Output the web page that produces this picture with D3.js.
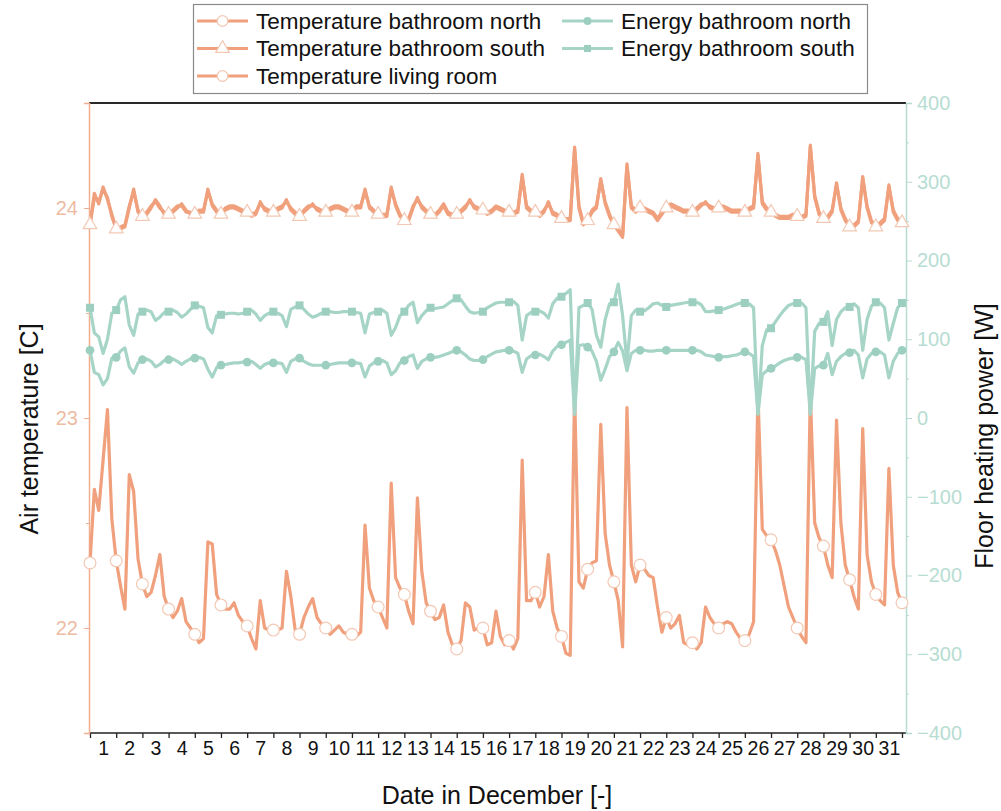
<!DOCTYPE html>
<html><head><meta charset="utf-8">
<script src="https://cdn.jsdelivr.net/npm/d3@7"></script>
<style>
body{margin:0;background:#fff}
text{font-family:"Liberation Sans",Arial,Helvetica,sans-serif}
</style>
</head><body>
<svg id="c" width="1001" height="811"></svg>
<script>
// ---------- data ----------
const dayLabels = ["1","2","3","4","5","6","7","8","9","10","11","12","13","14","15","16","17","18","19","20","21","22","23","24","25","26","27","28","29","30","31"];
const samplesPerDay = 6; // one value every 4 hours, first sample at 00:00 on 1 December
const tempMajorTicks = [22, 23, 24];
const tempMinorTicks = [22.5, 23.5];
const powerMajorTicks = [-400, -300, -200, -100, 0, 100, 200, 300, 400];
const powerMinorTicks = [-350, -250, -150, -50, 50, 150, 250, 350];

const seriesNames = ["Temperature bathroom north", "Temperature bathroom south", "Temperature living room", "Energy bathroom north", "Energy bathroom south"];

const tempBathroomSouth = [
23.92,24.05,24.03,24.09,24.05,23.96, 23.90,23.90,23.91,24.00,24.09,23.98,
23.96,23.97,24.00,24.04,24.01,23.97, 23.97,23.98,24.00,24.02,23.99,23.97,
23.97,23.98,23.98,24.09,24.01,23.98, 23.97,23.99,24.00,24.00,23.99,23.98,
23.98,23.96,23.97,24.03,23.99,23.98, 23.98,23.99,24.00,24.04,23.99,23.97,
23.96,23.98,24.00,24.02,23.99,23.98, 23.98,23.99,24.00,24.00,23.99,23.98,
23.98,24.00,24.00,24.09,24.00,23.98, 23.97,23.96,23.96,24.10,24.01,23.96,
23.94,23.94,24.00,24.05,24.00,23.98, 23.97,23.96,23.98,24.01,23.97,23.96,
23.97,23.98,24.00,24.04,24.00,23.99, 23.99,23.97,23.98,24.00,23.99,23.98,
23.98,23.97,23.98,24.16,24.00,23.98, 23.98,23.96,23.98,24.03,23.97,23.96,
23.95,23.94,23.94,24.29,24.00,23.92, 23.94,23.98,24.00,24.14,24.02,23.96,
23.92,23.89,23.86,24.21,24.00,23.98, 24.00,23.99,23.98,23.97,23.94,23.97,
24.00,24.01,24.00,23.99,23.98,23.98, 23.98,23.99,24.01,24.03,24.00,23.99,
24.00,24.00,23.99,23.98,23.98,23.98, 23.98,23.99,24.00,24.26,24.02,23.99,
23.98,23.96,23.95,23.95,23.95,23.96, 23.96,23.95,23.96,24.30,24.05,23.97,
23.95,23.95,23.98,24.12,23.99,23.94, 23.91,23.91,23.93,24.15,24.00,23.93,
23.91,23.92,23.94,24.11,23.98,23.94, 23.93];

const tempBathroomNorth = [
23.92,24.07,24.02,24.10,24.04,23.97, 23.90,23.91,23.92,24.01,24.08,23.99,
23.96,23.98,24.01,24.03,24.00,23.98, 23.97,23.99,24.01,24.01,23.98,23.98,
23.97,23.99,23.99,24.08,24.02,23.99, 23.97,24.00,24.01,24.01,24.00,23.99,
23.98,23.97,23.98,24.02,24.00,23.99, 23.98,24.00,24.01,24.03,24.00,23.98,
23.96,23.99,24.01,24.01,24.00,23.99, 23.98,24.00,24.01,24.01,24.00,23.99,
23.98,24.01,24.01,24.08,24.01,23.99, 23.97,23.97,23.97,24.09,24.02,23.97,
23.94,23.95,24.01,24.04,24.01,23.99, 23.97,23.97,23.99,24.02,23.98,23.97,
23.97,23.99,24.01,24.03,24.01,24.00, 23.99,23.98,23.99,24.01,24.00,23.99,
23.98,23.98,23.99,24.15,24.01,23.99, 23.98,23.97,23.99,24.02,23.98,23.97,
23.95,23.95,23.95,24.28,24.01,23.93, 23.94,23.99,24.01,24.13,24.03,23.97,
23.92,23.90,23.87,24.20,24.01,23.99, 24.00,24.00,23.99,23.98,23.95,23.98,
24.00,24.02,24.01,24.00,23.99,23.99, 23.98,24.00,24.02,24.02,24.01,24.00,
24.00,24.01,24.00,23.99,23.99,23.99, 23.98,24.00,24.01,24.25,24.03,24.00,
23.98,23.97,23.96,23.96,23.96,23.97, 23.96,23.96,23.97,24.29,24.06,23.98,
23.95,23.96,23.99,24.11,24.00,23.95, 23.91,23.92,23.94,24.14,24.01,23.94,
23.91,23.93,23.95,24.10,23.99,23.95, 23.93];

const tempLivingRoom = [
22.31,22.66,22.56,22.80,23.04,22.52, 22.32,22.20,22.09,22.73,22.65,22.33,
22.21,22.15,22.17,22.25,22.35,22.15, 22.09,22.05,22.08,22.14,22.03,22.00,
21.97,21.93,21.95,22.41,22.40,22.16, 22.11,22.09,22.09,22.12,22.06,22.03,
22.01,21.95,21.90,22.13,22.00,21.99, 21.99,21.99,22.00,22.27,22.15,21.99,
21.97,22.05,22.10,22.14,22.05,22.02, 22.00,21.97,21.99,22.01,21.98,21.97,
21.97,21.96,21.98,22.49,22.19,22.13, 22.10,22.05,22.00,22.69,22.24,22.19,
22.16,22.08,22.02,22.62,22.27,22.12, 22.08,22.04,22.05,22.11,21.98,21.92,
21.90,21.94,22.12,22.10,21.99,22.00, 22.00,21.92,21.93,22.08,21.96,21.92,
21.94,21.90,21.95,22.80,22.13,22.13, 22.17,22.10,22.15,22.35,22.08,22.00,
21.96,21.88,21.87,23.12,22.22,22.19, 22.28,22.31,22.32,22.97,22.45,22.30,
22.22,22.13,21.91,23.05,22.30,22.22, 22.30,22.28,22.25,22.24,22.10,21.98,
22.05,22.00,22.02,22.06,21.93,21.92, 21.93,21.90,21.93,22.10,22.05,22.02,
22.00,22.02,22.03,22.02,21.98,21.95, 21.94,21.97,22.03,23.12,22.47,22.44,
22.42,22.37,22.30,22.20,22.10,22.05, 22.00,21.96,21.93,23.12,22.50,22.43,
22.39,22.30,22.24,22.99,22.50,22.30, 22.23,22.15,22.09,22.95,22.35,22.22,
22.16,22.13,22.11,22.76,22.30,22.17, 22.12];

const energyBathroomSouth = [
140,108,103,82,100,133, 137,150,154,118,105,132,
135,137,135,124,128,134, 135,137,134,128,132,138,
143,142,140,115,108,130, 131,132,133,133,132,133,
135,137,132,124,130,133, 135,133,130,116,138,141,
143,138,132,128,130,133, 135,135,134,134,135,135,
135,134,133,108,132,134, 135,137,133,105,115,130,
135,143,147,121,130,136, 140,139,140,141,145,149,
152,150,142,135,133,134, 135,140,143,146,147,147,
147,148,143,99,130,134, 135,136,133,127,145,152,
154,158,163,5,140,143, 146,138,105,90,125,145,
147,170,130,70,130,137, 135,136,140,145,146,143,
141,143,144,145,146,147, 147,147,144,135,135,136,
137,138,140,142,144,146, 146,145,140,5,92,112,
114,122,130,137,143,145, 146,146,140,5,110,120,
122,135,92,125,135,140, 141,145,140,86,125,142,
147,146,140,99,120,140, 146];

const energyBathroomNorth = [
86,58,55,42,50,76, 77,85,89,65,57,70,
74,75,72,65,68,73, 74,75,72,68,72,75,
76,77,75,62,52,64, 67,68,69,70,70,71,
71,72,68,63,68,70, 70,70,69,58,72,75,
76,72,69,67,67,67, 67,68,69,70,70,70,
70,70,69,52,66,70, 72,73,70,55,60,70,
73,78,80,63,72,75, 77,77,78,80,82,84,
86,84,80,75,73,73, 74,78,81,84,85,86,
86,85,82,58,75,79, 80,81,78,74,85,91,
93,96,99,5,92,93, 90,85,72,48,62,78,
84,96,85,60,82,86, 86,86,85,85,86,86,
86,86,86,86,86,86, 86,86,84,80,79,78,
77,78,78,79,80,82, 84,82,78,5,55,60,
63,66,70,73,75,76, 77,77,74,5,63,66,
67,82,55,72,78,82, 83,86,80,51,75,82,
84,84,80,51,72,82, 86];

// ---------- styles ----------
const ORANGE = "#F0A07C";
const ORANGE_AXIS = "#EFAE90";
const ORANGE_TEXT = "#EDBBA3";
const MARK_STROKE = "#F3C9B5";
const TEAL = "#A6D5C7";
const TEAL_MARK = "#9CCFC0";
const TEAL_AXIS = "#B6DCD1";
const TEAL_TEXT = "#B7DDD2";
const FONT = "Liberation Sans, Arial, sans-serif";

const svg = d3.select("#c");
const frame = {left: 89, right: 906, top: 103, bottom: 733};

const x = d3.scaleLinear().domain([0, 31]).range([90, 902]);
const yT = d3.scaleLinear().domain([21.5, 24.5]).range([frame.bottom, frame.top]);
const yP = d3.scaleLinear().domain([-400, 400]).range([frame.bottom, frame.top]);

const toPts = arr => arr.map((v, i) => ({t: i / samplesPerDay, v, day: i % samplesPerDay === 0}));

// top frame line
svg.append("line").attr("x1", frame.left).attr("x2", frame.right)
  .attr("y1", frame.top).attr("y2", frame.top)
  .attr("stroke", "#2a2a2a").attr("stroke-width", 2);

// ---- bottom axis ----
const gx = svg.append("g").attr("transform", `translate(0,${frame.bottom})`);
gx.append("line").attr("x1", frame.left).attr("x2", frame.right).attr("stroke", "#222").attr("stroke-width", 1.5);
gx.call(d3.axisBottom(x).tickValues(d3.range(0, 32)).tickSize(5).tickFormat(""))
  .call(g => g.select(".domain").remove())
  .call(g => g.selectAll(".tick line").attr("stroke", "#222").attr("stroke-width", 1.3));
const gxl = svg.append("g").attr("transform", `translate(0,${frame.bottom})`);
gxl.call(d3.axisBottom(x).tickValues(dayLabels.map((d, i) => i + 0.5)).tickSize(0).tickPadding(8)
    .tickFormat((d, i) => dayLabels[i]))
  .call(g => g.select(".domain").remove())
  .call(g => g.selectAll("text").attr("font-size", 19.5).attr("fill", "#111").attr("font-family", FONT));

// ---- left axis ----
const gl = svg.append("g").attr("transform", `translate(${frame.left},0)`);
gl.call(d3.axisLeft(yT).tickValues(tempMajorTicks).tickSize(5).tickPadding(6).tickFormat(d3.format("d")))
  .call(g => g.select(".domain").attr("stroke", ORANGE_AXIS).attr("stroke-width", 1.5))
  .call(g => g.selectAll(".tick line").attr("stroke", ORANGE_AXIS))
  .call(g => g.selectAll("text").attr("font-size", 20).attr("fill", ORANGE_TEXT).attr("font-family", FONT));
gl.append("g").call(d3.axisLeft(yT).tickValues(tempMinorTicks).tickSize(3).tickFormat(""))
  .call(g => g.select(".domain").remove())
  .call(g => g.selectAll(".tick line").attr("stroke", ORANGE_AXIS));

// ---- right axis ----
const gr = svg.append("g").attr("transform", `translate(${frame.right},0)`);
gr.call(d3.axisRight(yP).tickValues(powerMajorTicks).tickSize(6).tickPadding(5).tickFormat(d3.format("d")))
  .call(g => g.select(".domain").attr("stroke", TEAL_AXIS).attr("stroke-width", 1.5))
  .call(g => g.selectAll(".tick line").attr("stroke", TEAL_AXIS))
  .call(g => g.selectAll("text").attr("font-size", 20).attr("fill", TEAL_TEXT).attr("font-family", FONT));
gr.append("g").call(d3.axisRight(yP).tickValues(powerMinorTicks).tickSize(3).tickFormat(""))
  .call(g => g.select(".domain").remove())
  .call(g => g.selectAll(".tick line").attr("stroke", TEAL_AXIS));

// ---- axis titles ----
svg.append("text").attr("transform", "translate(38,429) rotate(-90)").attr("text-anchor", "middle")
  .attr("font-size", 25).attr("fill", "#111").text("Air temperature [C]");
svg.append("text").attr("transform", "translate(993,436) rotate(-90)").attr("text-anchor", "middle")
  .attr("font-size", 25).attr("fill", "#111").text("Floor heating power [W]");
svg.append("text").attr("x", 497).attr("y", 804).attr("text-anchor", "middle")
  .attr("font-size", 25).attr("fill", "#111").text("Date in December [-]");

// ---- series ----
const plot = svg.append("g");
const lineT = d3.line().x(d => x(d.t)).y(d => yT(d.v));
const lineP = d3.line().x(d => x(d.t)).y(d => yP(d.v));

function drawLine(data, gen, color) {
  plot.append("path").datum(data).attr("d", gen).attr("fill", "none")
    .attr("stroke", color).attr("stroke-width", 3.2).attr("stroke-linejoin", "round");
}
function drawMarkers(data, yScale, symbol, size, fill, stroke) {
  plot.append("g").selectAll("path").data(data.filter(d => d.day)).join("path")
    .attr("transform", d => `translate(${x(d.t)},${yScale(d.v)})`)
    .attr("d", d3.symbol().type(symbol).size(size))
    .attr("fill", fill).attr("stroke", stroke).attr("stroke-width", stroke === "none" ? 0 : 1.2);
}

const bn = toPts(tempBathroomNorth), bs = toPts(tempBathroomSouth), lr = toPts(tempLivingRoom);
const en = toPts(energyBathroomNorth), es = toPts(energyBathroomSouth);

drawLine(bn, lineT, ORANGE);
drawMarkers(bn, yT, d3.symbolCircle, 28, "#fff", MARK_STROKE);
drawLine(bs, lineT, ORANGE);
drawMarkers(bs, yT, d3.symbolTriangle, 80, "#fff", MARK_STROKE);
drawLine(lr, lineT, ORANGE);
drawMarkers(lr, yT, d3.symbolCircle, 110, "#fff", MARK_STROKE);
drawLine(en, lineP, TEAL);
drawMarkers(en, yP, d3.symbolCircle, 60, TEAL_MARK, "none");
drawLine(es, lineP, TEAL);
drawMarkers(es, yP, d3.symbolSquare, 64, TEAL_MARK, "none");

// ---- legend ----
const lg = svg.append("g");
lg.append("rect").attr("x", 193.5).attr("y", 4.5).attr("width", 674).attr("height", 89)
  .attr("fill", "#fff").attr("stroke", "#8a8a8a").attr("stroke-width", 1.2);
const legendItems = [
  {name: seriesNames[0], col: 0, row: 0, color: ORANGE, sym: d3.symbolCircle, size: 90, fill: "#fff", stroke: MARK_STROKE},
  {name: seriesNames[1], col: 0, row: 1, color: ORANGE, sym: d3.symbolTriangle, size: 80, fill: "#fff", stroke: MARK_STROKE},
  {name: seriesNames[2], col: 0, row: 2, color: ORANGE, sym: d3.symbolCircle, size: 90, fill: "#fff", stroke: MARK_STROKE},
  {name: seriesNames[3], col: 1, row: 0, color: TEAL, sym: d3.symbolCircle, size: 50, fill: TEAL_MARK, stroke: "none"},
  {name: seriesNames[4], col: 1, row: 1, color: TEAL, sym: d3.symbolSquare, size: 50, fill: TEAL_MARK, stroke: "none"}
];
const colX = [197, 562];
const rowY = [21, 48.5, 76];
legendItems.forEach(it => {
  const g = lg.append("g").attr("transform", `translate(${colX[it.col]},${rowY[it.row]})`);
  g.append("line").attr("x1", 0).attr("x2", 51).attr("stroke", it.color).attr("stroke-width", 3);
  g.append("path").attr("transform", "translate(25.5,0)").attr("d", d3.symbol().type(it.sym).size(it.size))
    .attr("fill", it.fill).attr("stroke", it.stroke).attr("stroke-width", it.stroke === "none" ? 0 : 1.2);
  g.append("text").attr("x", 59).attr("dy", "0.35em").attr("font-size", 22.5).attr("fill", "#111").text(it.name);
});
</script>
</body></html>
